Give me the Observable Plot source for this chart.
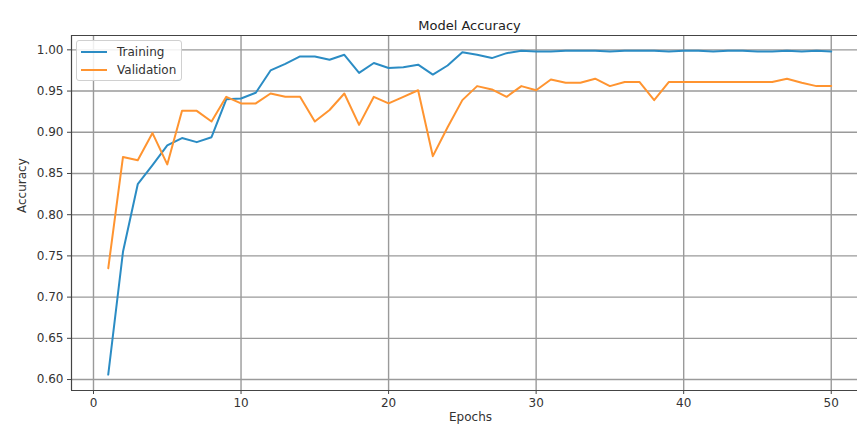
<!DOCTYPE html>
<html>
<head>
<meta charset="utf-8">
<script src="https://cdn.jsdelivr.net/npm/d3@7"></script>
<script src="https://cdn.jsdelivr.net/npm/@observablehq/plot@0.6"></script>
<style>
  html, body { margin: 0; padding: 0; background: #fff; }
  #wrap { position: relative; width: 857px; height: 428px; font-family: "DejaVu Sans", sans-serif; }
  #legend { position: absolute; left: 76px; top: 40px; width: 104px; height: 39px;
            border: 1px solid #d0d0d0; border-radius: 3px; background: rgba(255,255,255,0.85);
            font-size: 12px; color: #333; }
  #legend .row { position: absolute; left: 0; height: 16px; display: flex; align-items: center; }
  #legend svg { margin-left: 4px; margin-right: 10px; }
</style>
</head>
<body>
<div id="wrap"><div id="chart"></div><div id="legend"></div></div>
<script>
const title = "Model Accuracy";
const xLabel = "Epochs";
const yLabel = "Accuracy";
const seriesNames = ["Training", "Validation"];
const seriesColors = ["#2b8cc4", "#ff9430"];
const xTicks = [0, 10, 20, 30, 40, 50];
const yTicks = [0.60, 0.65, 0.70, 0.75, 0.80, 0.85, 0.90, 0.95, 1.00];
const epochs = d3.range(1, 51);
const training = [
  0.606, 0.755, 0.837, 0.860, 0.884, 0.893, 0.888, 0.894, 0.940, 0.941,
  0.948, 0.975, 0.983, 0.992, 0.992, 0.988, 0.994, 0.972, 0.984, 0.978,
  0.979, 0.982, 0.970, 0.981, 0.997, 0.994, 0.990, 0.996, 0.999, 0.998,
  0.998, 0.999, 0.999, 0.999, 0.998, 0.999, 0.999, 0.999, 0.998, 0.999,
  0.999, 0.998, 0.999, 0.999, 0.998, 0.998, 0.999, 0.998, 0.999, 0.998
];
const validation = [
  0.735, 0.870, 0.866, 0.899, 0.861, 0.926, 0.926, 0.913, 0.943, 0.935,
  0.935, 0.947, 0.943, 0.943, 0.913, 0.927, 0.947, 0.909, 0.943, 0.935,
  0.943, 0.951, 0.871, 0.906, 0.939, 0.956, 0.952, 0.943, 0.956, 0.951,
  0.964, 0.960, 0.960, 0.965, 0.956, 0.961, 0.961, 0.939, 0.961, 0.961,
  0.961, 0.961, 0.961, 0.961, 0.961, 0.961, 0.965, 0.960, 0.956, 0.956
];

const rows = [];
[training, validation].forEach((arr, s) => {
  epochs.forEach((e, i) => rows.push({epoch: e, acc: arr[i], series: seriesNames[s]}));
});

const xDomain = [-1.49, 51.78];
const yDomain = [0.5867, 1.0174];

const chart = Plot.plot({
  width: 857,
  height: 428,
  marginLeft: 71,
  marginRight: 0,
  marginTop: 35,
  marginBottom: 38,
  style: {fontFamily: "DejaVu Sans, sans-serif", fontSize: "12px", color: "#333", background: "#fff"},
  x: {domain: xDomain},
  y: {domain: yDomain},
  color: {domain: seriesNames, range: seriesColors},
  marks: [
    Plot.gridX(xTicks, {stroke: "#9a9a9a", strokeOpacity: 1, strokeWidth: 1.4}),
    Plot.gridY(yTicks, {stroke: "#9a9a9a", strokeOpacity: 1, strokeWidth: 1.4}),
    Plot.axisX(xTicks, {tickSize: 4, tickPadding: 4, label: null, stroke: "#444", fill: "#333", tickFormat: d3.format("d")}),
    Plot.axisY(yTicks, {tickSize: 4, tickPadding: 4, label: null, stroke: "#444", fill: "#333", tickFormat: d3.format(".2f")}),
    Plot.ruleX([xDomain[0]], {stroke: "#444", strokeWidth: 1.2}),
    Plot.ruleY([yDomain[0]], {stroke: "#444", strokeWidth: 1.2}),
    Plot.ruleY([yDomain[1]], {stroke: "#444", strokeWidth: 1.2}),
    Plot.line(rows, {x: "epoch", y: "acc", z: "series", stroke: "series", strokeWidth: 2}),
    Plot.text([title], {frameAnchor: "top", dy: -15, dx: 5, fontSize: 13, fill: "#222"}),
    Plot.text([xLabel], {frameAnchor: "bottom", dy: 30, dx: 6, fontSize: 12, fill: "#333"}),
    Plot.text([yLabel], {frameAnchor: "left", dx: -49, rotate: -90, fontSize: 12, fill: "#333"})
  ]
});
document.getElementById("chart").appendChild(chart);

const legend = document.getElementById("legend");
seriesNames.forEach((name, i) => {
  const row = document.createElement("div");
  row.className = "row";
  row.style.top = (3 + i * 18) + "px";
  row.innerHTML = `<svg width="26" height="4"><line x1="0" y1="2" x2="26" y2="2" stroke="${seriesColors[i]}" stroke-width="2"/></svg><span>${name}</span>`;
  legend.appendChild(row);
});
</script>
</body>
</html>
